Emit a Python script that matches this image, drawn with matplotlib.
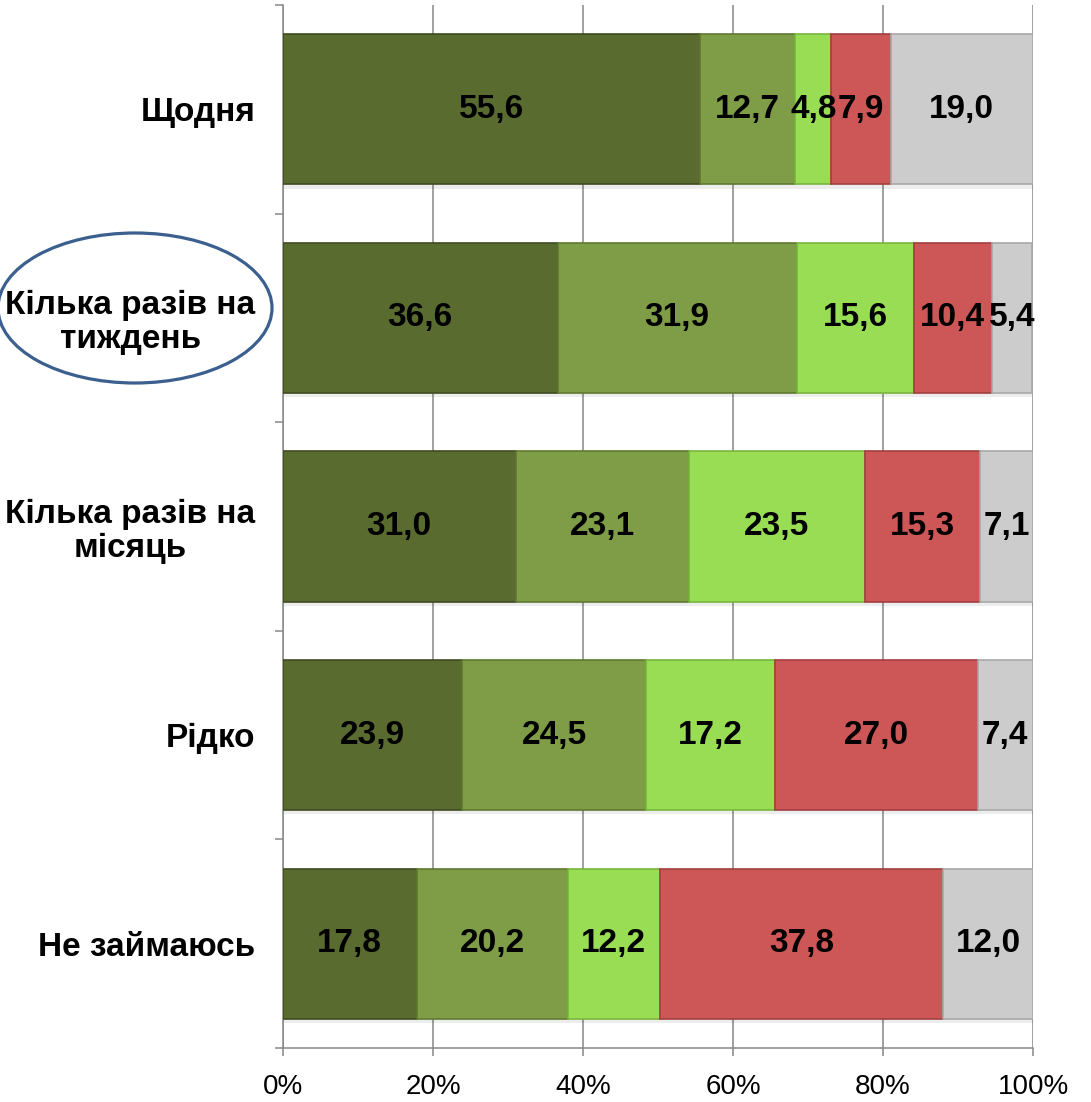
import matplotlib
matplotlib.use("Agg")
import matplotlib.pyplot as plt
from matplotlib.patches import Ellipse
import numpy as np

plt.rcParams['font.family'] = ['Liberation Sans', 'DejaVu Sans']

categories = ["Щодня", "Кілька разів на\nтиждень", "Кілька разів на\nмісяць", "Рідко", "Не займаюсь"]
s1 = [55.6, 36.6, 31.0, 23.9, 17.8]
s2 = [12.7, 31.9, 23.1, 24.5, 20.2]
s3 = [4.8, 15.6, 23.5, 17.2, 12.2]
s4 = [7.9, 10.4, 15.3, 27.0, 37.8]
s5 = [19.0, 5.4, 7.1, 7.4, 12.0]
series = [s1, s2, s3, s4, s5]
colors = ["#5A6B30", "#7F9C46", "#99DD55", "#CD5656", "#CCCCCC"]
edges = ["#3F4C20", "#5F7A30", "#78B63C", "#A23E3E", "#A8A8A8"]
xticks = [0, 20, 40, 60, 80, 100]
xticklabels = ["0%", "20%", "40%", "60%", "80%", "100%"]

fig = plt.figure(figsize=(10.91, 11.02), dpi=100)
ax = fig.add_axes([283/1091, 1 - 1048/1102, (1033-283)/1091, (1048-5)/1102])

y = np.arange(len(categories))
left = np.zeros(len(categories))
for vals, c, ec in zip(series, colors, edges):
    vals = np.array(vals)
    # soft shadow
    ax.barh(y + 0.02, vals, left=left, height=0.72, color="#000000", alpha=0.07,
            linewidth=0, zorder=2)
    ax.barh(y, vals, left=left, height=0.72, color=c, edgecolor=ec,
            linewidth=1.2, zorder=3)
    for yi, v, l in zip(y, vals, left):
        ax.text(l + v / 2, yi, f"{v:.1f}".replace(".", ","), ha="center", va="center",
                fontsize=24, fontweight="bold", color="black", zorder=5)
    left += vals

ax.set_xlim(0, 100)
ax.set_ylim(len(categories) - 0.5, -0.5)

ax.set_xticks(xticks)
ax.set_xticklabels(xticklabels, fontsize=20)
ax.tick_params(axis="x", direction="out", length=6, width=1.1, color="#888888", pad=13)

ax.set_yticks(np.arange(-0.5, len(categories), 1.0))
ax.set_yticklabels([])
ax.set_yticks(y, minor=True)
ax.set_yticklabels(categories, minor=True, fontsize=24, fontweight="bold")
ax.tick_params(axis="y", which="major", direction="out", length=6, width=1.1, color="#888888")
ax.tick_params(axis="y", which="minor", length=0, pad=20)
for lab in ax.get_yticklabels(minor=True):
    lab.set_multialignment("center")
    lab.set_linespacing(1.1)

ax.grid(axis="x", color="#888888", linewidth=1.1, zorder=0)
ax.set_axisbelow(True)
for side in ["top", "right"]:
    ax.spines[side].set_visible(False)
for side in ["left", "bottom"]:
    ax.spines[side].set_color("#888888")
    ax.spines[side].set_linewidth(1.1)

ell = Ellipse((135/1091, 1 - 308/1102), 274/1091, 150/1102, transform=fig.transFigure,
              fill=False, edgecolor="#3B5F8E", linewidth=2.3)
fig.patches.append(ell)

fig.savefig("out.png", dpi=100)
